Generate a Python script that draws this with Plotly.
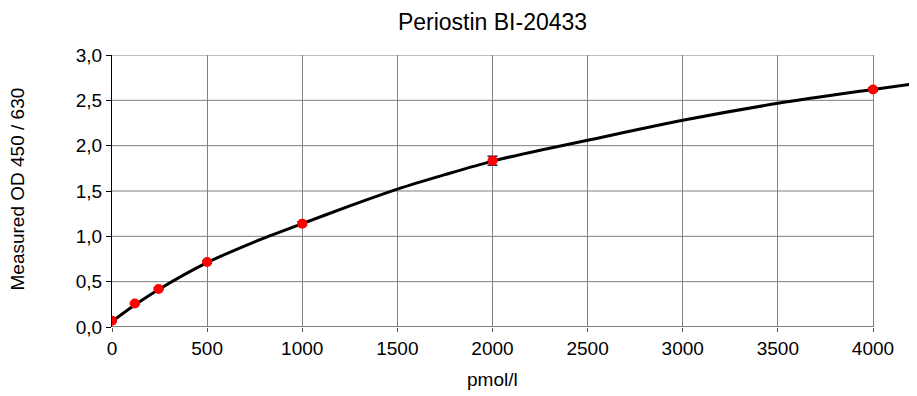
import plotly.graph_objects as go

# Measured standards
conc = [0, 120, 245, 500, 1000, 2000, 4000]
od = [0.07, 0.26, 0.42, 0.717, 1.14, 1.834, 2.62]
od_err = [0.01, 0.01, 0.01, 0.015, 0.02, 0.05, 0.02]

# Fitted curve
curve_x = [0, 125, 250, 500, 750, 1000, 1250, 1500, 1750, 2000, 2250, 2500, 3000, 3500, 4000, 4240]
curve_y = [0.06, 0.25, 0.42, 0.71, 0.94, 1.14, 1.335, 1.52, 1.68, 1.83, 1.95, 2.06, 2.28, 2.467, 2.62, 2.69]

x_ticks = [0, 500, 1000, 1500, 2000, 2500, 3000, 3500, 4000]
y_ticks = [0.0, 0.5, 1.0, 1.5, 2.0, 2.5, 3.0]

# page body adds an 8px offset; compensate
OFF = 8
W, H = 917, 396
L, R, T, B = 112 - OFF, OFF, 55 - OFF, 69 + OFF
plot_w = W - L - R
x_end_px = 873 - OFF - L
x_max = x_ticks[-1] * plot_w / x_end_px

FONT = "Liberation Sans, Arial, sans-serif"

fig = go.Figure()
fig.add_trace(go.Scatter(
    x=curve_x, y=curve_y, mode="lines",
    line=dict(color="black", width=3, shape="spline", smoothing=0.8),
    hoverinfo="skip", showlegend=False,
))
fig.add_trace(go.Scatter(
    x=conc, y=od, mode="markers",
    marker=dict(color="#ff0000", size=10),
    error_y=dict(type="data", array=od_err, visible=True, color="#1a1a50", thickness=1.5, width=5),
    showlegend=False,
))

# horizontal grid lines, ending at the last x tick like the reference
for v in y_ticks:
    fig.add_shape(type="line", xref="x", yref="y", x0=0, x1=x_ticks[-1], y0=v, y1=v,
                  line=dict(color="black" if v == 0 else "#808080", width=1), layer="below")

fig.update_layout(
    width=W, height=H,
    margin=dict(l=L, r=R, t=T, b=B),
    paper_bgcolor="white", plot_bgcolor="white",
    separators=",.",
    font=dict(family=FONT, size=19, color="black"),
    title=dict(text="Periostin BI-20433", x=(492.5 - OFF - L) / plot_w, xref="paper", xanchor="center",
               y=1 - (22 - OFF) / H, yref="container", yanchor="middle",
               font=dict(family=FONT, size=23, color="black")),
    xaxis=dict(range=[0, x_max], tickvals=x_ticks, tickformat="d",
               showgrid=True, gridcolor="#808080", gridwidth=1,
               showline=False, zeroline=False,
               ticks="outside", ticklen=4, tickcolor="#555",
               tickfont=dict(family=FONT, size=19, color="black")),
    yaxis=dict(range=[0, 3], tickvals=y_ticks, tickformat=".1f",
               showgrid=False, zeroline=False,
               showline=True, linecolor="black", linewidth=1,
               ticks="outside", ticklen=5, tickcolor="black",
               tickfont=dict(family=FONT, size=19, color="black")),
    annotations=[
        dict(text="pmol/l", xref="paper", yref="paper", x=(492.5 - OFF - L) / plot_w,
             y=(327 - 379) / 272, xanchor="center", yanchor="middle", showarrow=False,
             font=dict(family=FONT, size=19, color="black")),
        dict(text="Measured OD 450 / 630", xref="paper", yref="paper", x=(16.5 - OFF - L) / plot_w,
             y=(327 - 189) / 272, xanchor="center", yanchor="middle", showarrow=False,
             textangle=-90, font=dict(family=FONT, size=19, color="black")),
    ],
)

fig.write_html("out.html")
